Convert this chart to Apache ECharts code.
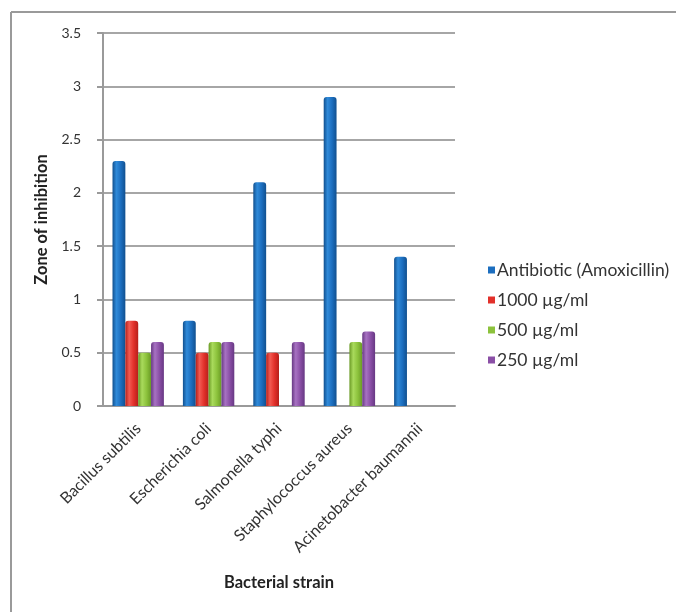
<!DOCTYPE html>
<html>
<head>
<meta charset="utf-8">
<script src="https://cdn.jsdelivr.net/npm/echarts@6/dist/echarts.min.js"></script>
<style>
  html, body { margin: 0; padding: 0; background: #fff; }
  #chart { width: 676px; height: 612px; }
</style>
</head>
<body>
<div id="chart"></div>
<script>
// Bacterial strains tested
const strains = ['Bacillus subtilis', 'Escherichia coli', 'Salmonella typhi', 'Staphylococcus aureus', 'Acinetobacter baumannii'];

// Zone of inhibition per treatment (null = no zone observed)
const amoxicillin = [2.3, 0.8, 2.1, 2.9, 1.4];
const dose1000 = [0.8, 0.5, 0.5, null, null];
const dose500 = [0.5, 0.6, null, 0.6, null];
const dose250 = [0.6, 0.6, 0.6, 0.7, null];

const seriesNames = ['Antibiotic (Amoxicillin)', '1000 µg/ml', '500 µg/ml', '250 µg/ml'];
const yTicks = [0, 0.5, 1, 1.5, 2, 2.5, 3, 3.5];

const FONT = 'Lato, "Open Sans", sans-serif';

// cylinder-like shading across each bar
function shade(dark, mid, light) {
  return new echarts.graphic.LinearGradient(0, 0, 1, 0, [
    { offset: 0, color: dark },
    { offset: 0.3, color: light },
    { offset: 0.65, color: mid },
    { offset: 1, color: dark }
  ]);
}

const palette = [
  { solid: '#1c6ebf', fill: shade('#11508f', '#1c6ebf', '#2f8ad9') },
  { solid: '#e2302a', fill: shade('#b51f1a', '#e2302a', '#f25a52') },
  { solid: '#8cc23c', fill: shade('#6a9a25', '#8cc23c', '#a9da5c') },
  { solid: '#8a4fa6', fill: shade('#673883', '#8a4fa6', '#a772c2') }
];

const values = [amoxicillin, dose1000, dose500, dose250];

const chart = echarts.init(document.getElementById('chart'), null, { renderer: 'canvas' });

chart.setOption({
  backgroundColor: '#ffffff',
  animation: false,
  textStyle: { fontFamily: FONT },
  graphic: [
    { type: 'line', shape: { x1: 11, y1: 12, x2: 676, y2: 12 }, style: { stroke: '#9a9a9a', lineWidth: 2 } },
    { type: 'line', shape: { x1: 11, y1: 12, x2: 11, y2: 612 }, style: { stroke: '#9a9a9a', lineWidth: 2 } }
  ],
  grid: { left: 103, right: 221, top: 33, bottom: 206, containLabel: false },
  legend: {
    orient: 'vertical',
    left: 483,
    top: 256,
    itemWidth: 7,
    itemHeight: 7,
    itemGap: 12,
    icon: 'rect',
    data: seriesNames.map((n, i) => ({ name: n, itemStyle: { color: palette[i].solid } })),
    textStyle: { fontFamily: FONT, fontSize: 17.5, color: '#333', padding: [0, 0, 0, -3] }
  },
  xAxis: {
    type: 'category',
    data: strains,
    name: 'Bacterial strain',
    nameLocation: 'middle',
    nameGap: 168,
    nameTextStyle: { fontFamily: FONT, fontSize: 16.5, fontWeight: 'bold', color: '#222' },
    axisLine: { lineStyle: { color: '#9a9a9a', width: 2 } },
    axisTick: { show: false },
    axisLabel: { rotate: 45, margin: 20, fontFamily: FONT, fontSize: 16, color: '#333' }
  },
  yAxis: {
    type: 'value',
    min: 0,
    max: 3.5,
    interval: 0.5,
    name: 'Zone of inhibition',
    nameLocation: 'middle',
    nameGap: 50,
    nameTextStyle: { fontFamily: FONT, fontSize: 16.5, fontWeight: 'bold', color: '#222' },
    axisLine: { show: true, lineStyle: { color: '#9a9a9a', width: 2 } },
    axisTick: { show: true, length: 6, lineStyle: { color: '#9a9a9a', width: 2 } },
    axisLabel: {
      margin: 22,
      fontFamily: FONT,
      fontSize: 14,
      color: '#333',
      formatter: v => (yTicks.includes(v) ? String(v) : '')
    },
    splitLine: { lineStyle: { color: '#a6a6a6', width: 2 } }
  },
  series: seriesNames.map((name, i) => ({
    name: name,
    type: 'bar',
    data: values[i],
    barGap: '0%',
    barCategoryGap: '27%',
    itemStyle: { color: palette[i].fill, borderRadius: [3, 3, 0, 0] }
  }))
});
</script>
</body>
</html>
